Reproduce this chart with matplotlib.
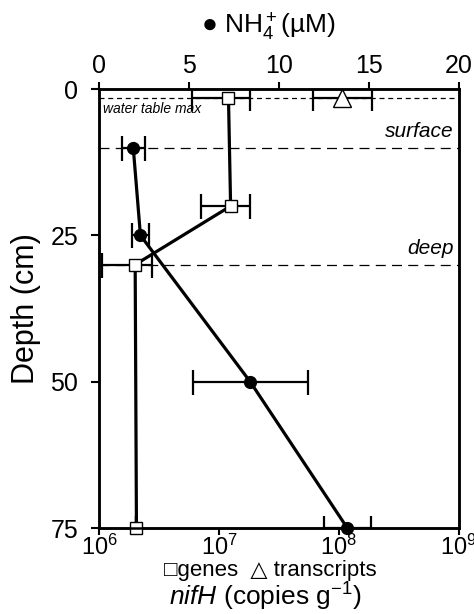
import matplotlib
matplotlib.use("Agg")
import matplotlib.pyplot as plt
import numpy as np

plt.rcParams['font.family'] = ['Liberation Sans', 'DejaVu Sans']
plt.rcParams['mathtext.fontset'] = 'custom'
plt.rcParams['mathtext.rm'] = 'Liberation Sans'
plt.rcParams['mathtext.it'] = 'Liberation Sans:italic'
plt.rcParams['mathtext.bf'] = 'Liberation Sans:bold'

# ---- data ----
nh4_depth = [10, 25, 50, 75]
nh4 = [1.9, 2.3, 8.4, 13.8]
nh4_err = [0.65, 0.45, 3.2, 1.3]

gene_depth = [1.5, 20, 30, 75]
genes = [1.2e7, 1.25e7, 2.0e6, 2.05e6]
genes_lo = [5.9e6, 7.1e6, 1.05e6, 2.05e6]
genes_hi = [1.8e7, 1.8e7, 2.75e6, 2.05e6]

tr_depth = [1.5]
transcripts = [1.07e8]
tr_lo = [6.1e7]
tr_hi = [1.87e8]

zone_depths = [1.5, 10, 30]
zone_labels = ["water table max", "surface", "deep"]

nh4_ticks = [0, 5, 10, 15, 20]
nif_ticks = [1e6, 1e7, 1e8, 1e9]
nif_ticklabels = ["10$^{6}$", "10$^{7}$", "10$^{8}$", "10$^{9}$"]
depth_ticks = [0, 25, 50, 75]

fig = plt.figure(figsize=(4.74, 6.14), dpi=100)
ax = fig.add_axes([0.209, 0.140, 0.759, 0.715])

# bottom log axis: nifH
ax.set_xscale('log')
ax.set_xlim(1e6, 1e9)
ax.set_ylim(75, 0)

# zone lines
ax.axhline(zone_depths[0], color='black', lw=0.9, ls=(0, (4, 3)), zorder=1)
ax.axhline(zone_depths[1], color='black', lw=0.9, ls=(0, (8, 5)), zorder=1)
ax.axhline(zone_depths[2], color='black', lw=0.9, ls=(0, (8, 5)), zorder=1)

g = np.array(genes)
gerr = [g - np.array(genes_lo), np.array(genes_hi) - g]
ax.errorbar(genes, gene_depth, xerr=gerr, fmt='none', ecolor='black',
            elinewidth=1.6, capsize=9, capthick=1.6, zorder=3)
ax.plot(genes, gene_depth, '-', color='black', lw=2.3, zorder=4)
ax.plot(genes, gene_depth, 's', ms=9, mfc='white', mec='black', mew=1.0,
        zorder=6, clip_on=False)

t = np.array(transcripts)
terr = [t - np.array(tr_lo), np.array(tr_hi) - t]
ax.errorbar(transcripts, tr_depth, xerr=terr, fmt='none', ecolor='black',
            elinewidth=1.6, capsize=9, capthick=1.6, zorder=3)
ax.plot(transcripts, tr_depth, '^', ms=13, mfc='white', mec='black', mew=1.0,
        zorder=6, clip_on=False)

ax.set_xticks(nif_ticks)
ax.set_xticklabels(nif_ticklabels)
ax.xaxis.set_minor_locator(matplotlib.ticker.NullLocator())
ax.set_yticks(depth_ticks)
ax.tick_params(axis='x', which='major', direction='out', length=5, width=1.5,
               labelsize=17, pad=0, color='black')
ax.tick_params(axis='y', which='major', direction='out', length=6, width=1.5,
               labelsize=18, pad=9, color='black')

# top linear axis: NH4
ax2 = ax.twiny()
ax2.set_xlim(0, 20)
ax2.set_ylim(75, 0)
ax2.errorbar(nh4, nh4_depth, xerr=nh4_err, fmt='none', ecolor='black',
             elinewidth=1.6, capsize=9, capthick=1.6, zorder=3)
ax2.plot(nh4, nh4_depth, '-', color='black', lw=2.3, zorder=4)
ax2.plot(nh4, nh4_depth, 'o', ms=8.5, color='black', zorder=6, clip_on=False)
ax2.set_xticks(nh4_ticks)
ax2.tick_params(axis='x', direction='out', length=5, width=1.5, labelsize=18, pad=3)

for a in (ax, ax2):
    for s in a.spines.values():
        s.set_linewidth(1.8)

# zone labels
ax.text(0.012, zone_depths[0] + 0.7, zone_labels[0], transform=ax.get_yaxis_transform(),
        fontsize=10, style='italic', va='top', ha='left')
ax.text(0.985, zone_depths[1] - 1.2, zone_labels[1], transform=ax.get_yaxis_transform(),
        fontsize=15, style='italic', va='bottom', ha='right')
ax.text(0.985, zone_depths[2] - 1.2, zone_labels[2], transform=ax.get_yaxis_transform(),
        fontsize=15, style='italic', va='bottom', ha='right')

ax.set_ylabel("Depth (cm)", fontsize=22, labelpad=7)

fig.text(0.566, 0.956, "● NH$_4^+$(µM)", fontsize=19, ha='center', va='center')
fig.text(0.57, 0.0615, "□genes  △ transcripts", fontsize=16, ha='center', va='baseline')
fig.text(0.56, 0.0140, r"$\mathit{nifH}$ (copies g$^{-1}$)", fontsize=19,
         ha='center', va='baseline')

fig.savefig("out.png", dpi=100)
